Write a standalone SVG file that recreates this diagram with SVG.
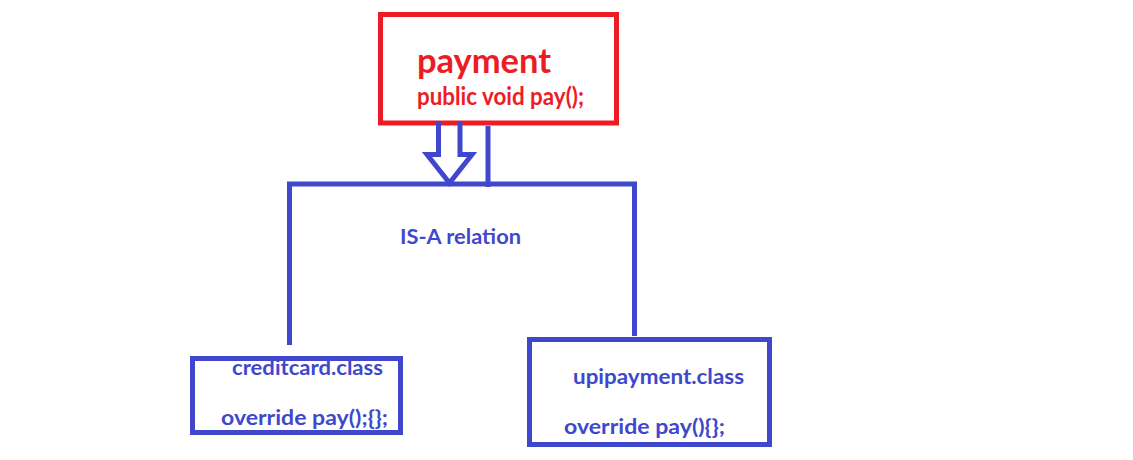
<svg xmlns="http://www.w3.org/2000/svg" width="1133" height="460" viewBox="0 0 1133 460">
  <style>
    .blue { stroke: #3F48CC; stroke-width: 5; fill: none; }
    .red { stroke: #ED1C24; stroke-width: 5; fill: none; }
    .t { font-family: Lato, "Open Sans", "Liberation Sans", sans-serif; font-weight: 700; }
    .tb { fill: #3F48CC; }
    .tr { fill: #ED1C24; }
  </style>
  <rect width="1133" height="460" fill="#FFFFFF"/>
  <g id="payment">
    <rect class="red" x="380.5" y="14.5" width="236" height="108.5"/>
    <text class="t tr" x="417" y="73" font-size="34" textLength="134" lengthAdjust="spacingAndGlyphs">payment</text>
    <text class="t tr" x="417" y="104.5" font-size="24" textLength="167" lengthAdjust="spacingAndGlyphs">public void pay();</text>
  </g>
  <g id="connectors">
    <path class="blue" d="M438.5,121 V154.5 H427 L449.5,183 L472,154.5 H460 V121"/>
    <line class="blue" x1="488" y1="126" x2="488" y2="187"/>
    <polyline class="blue" points="289.5,345 289.5,184 634.5,184 634.5,336"/>
    <text class="t tb" x="400" y="244" font-size="20" textLength="121" lengthAdjust="spacingAndGlyphs">IS-A relation</text>
  </g>
  <g id="creditcard">
    <rect class="blue" x="192.5" y="358.5" width="208" height="74"/>
    <text class="t tb" x="232" y="374.5" font-size="20" textLength="151" lengthAdjust="spacingAndGlyphs">creditcard.class</text>
    <text class="t tb" x="221" y="425" font-size="20" textLength="167" lengthAdjust="spacingAndGlyphs">override pay();{};</text>
  </g>
  <g id="upipayment">
    <rect class="blue" x="529.5" y="339.5" width="240" height="105"/>
    <text class="t tb" x="573" y="383.5" font-size="21" textLength="171" lengthAdjust="spacingAndGlyphs">upipayment.class</text>
    <text class="t tb" x="564" y="433.5" font-size="21" textLength="161" lengthAdjust="spacingAndGlyphs">override pay(){};</text>
  </g>
</svg>
